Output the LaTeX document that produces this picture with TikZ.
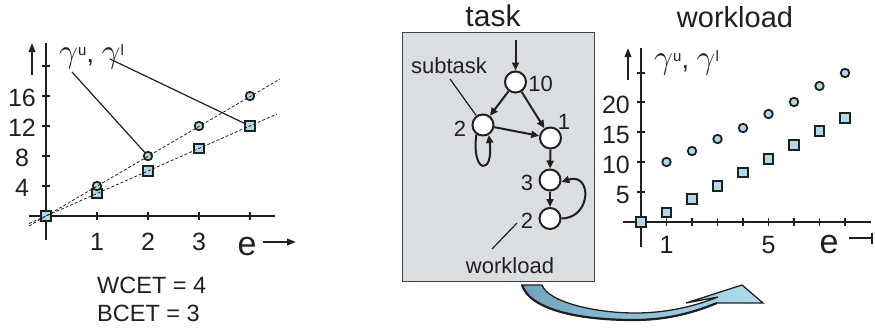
\documentclass[tikz,border=0pt]{standalone}
\usepackage{fix-cm}
\usepackage{fontspec}
\setmainfont{Liberation Sans}
\usetikzlibrary{arrows.meta}
\definecolor{mk}{RGB}{172,220,234}
\definecolor{boxfill}{RGB}{218,221,226}
\definecolor{arrA}{RGB}{112,164,190}
\definecolor{arrB}{RGB}{176,222,236}
\definecolor{ink}{RGB}{35,31,32}
\newcommand{\fsz}[1]{\fontsize{#1}{#1}\selectfont}
\newcommand{\gamlab}{\scalebox{1.25}{$\gamma$}\raisebox{7pt}{\fsz{15}u}, \scalebox{1.25}{$\gamma$}\raisebox{7pt}{\fsz{15}l}}
\begin{document}
\begin{tikzpicture}[x=1pt,y=-1pt,
  axis/.style={line width=2pt, draw=ink},
  tickmark/.style={line width=1.6pt, draw=ink},
  lab/.style={inner sep=0pt, anchor=base, text=ink, font=\fsz{25}},
  circmark/.style={circle, draw=ink, line width=1.8pt, fill=mk, minimum size=8.5pt, inner sep=0pt},
  sqmark/.style={rectangle, draw=ink, line width=1.8pt, fill=mk, minimum size=9.5pt, inner sep=0pt},
  gnode/.style={circle, draw=ink, line width=2pt, fill=white, minimum size=21pt, inner sep=0pt},
  gedge/.style={line width=2pt, draw=ink, -{Triangle[length=8pt,width=7pt]}},
  ptr/.style={line width=1.2pt, draw=ink},
  dline/.style={dash pattern=on 3pt off 2pt, line width=0.8pt, draw=ink},
  axarrow/.style={line width=2pt, draw=ink, -{Triangle[length=9pt,width=6.5pt]}},
]
\useasboundingbox (0,0) rectangle (875,327);

% ================= left chart =================
\coordinate (LyT) at (46,43); \coordinate (LyB) at (46,240);
\coordinate (LxL) at (29,216); \coordinate (LxR) at (275,216);
\draw[axis] (LyT) -- (LyB);
\draw[axis] (LxL) -- (LxR);
\foreach \y in {66,96,126,156,186} \draw[tickmark] (42,\y) -- (50,\y);
\foreach \x in {97,148,199,250} \draw[tickmark] (\x,212) -- (\x,220);
\node[lab] (ly16) at (22,106) {16};
\node[lab] (ly12) at (22,136) {12};
\node[lab] (ly8) at (22,166) {8};
\node[lab] (ly4) at (22,196) {4};
\node[lab] (lx1) at (97,250) {1};
\node[lab] (lx2) at (148,250) {2};
\node[lab] (lx3) at (199,250) {3};
\node[lab, font=\fsz{34}] (le) at (247,255) {e};
\coordinate (LeA) at (263,242); \coordinate (LeB) at (296,242);
\draw[axarrow] (LeA) -- (LeB);
\coordinate (LgA) at (32,75); \coordinate (LgB) at (32,43);
\draw[axarrow] (LgA) -- (LgB);
\node[lab, anchor=base west, font=\fsz{27}] (lgam) at (59,62) {\gamlab};

% markers
\node[sqmark] (s0) at (46,216) {};
\node[sqmark] (s1) at (97,193.5) {};
\node[sqmark] (s2) at (148,171) {};
\node[sqmark] (s3) at (199,148.5) {};
\node[sqmark] (s4) at (250,126) {};
\node[circmark] (c1) at (97,186) {};
\node[circmark] (c2) at (148,156) {};
\node[circmark] (c3) at (199,126) {};
\node[circmark] (c4) at (250,96) {};
% dashed lines
\coordinate (d1a) at (29,226); \coordinate (d1b) at (280,79);
\coordinate (d2a) at (29,223.5); \coordinate (d2b) at (277,114);
\draw[dline] (d1a) -- (d1b);
\draw[dline] (d2a) -- (d2b);
% pointers
\coordinate (g1) at (72,72); \coordinate (g2) at (110,59);
\draw[ptr] (g1) -- (c2);
\draw[ptr] (g2) -- (s4);

\node[lab, anchor=base west, font=\fsz{23.5}] (wcet) at (97,293) {WCET = 4};
\node[lab, anchor=base west, font=\fsz{23.5}] (bcet) at (97,321) {BCET = 3};

% ================= middle: task =================
\node[lab, font=\fsz{30}] (task) at (493,26) {task};
\node[draw=ink!85, line width=1pt, fill=boxfill, minimum width=192pt, minimum height=249pt, anchor=north west, inner sep=0pt] (box) at (402,32) {};

\node[gnode] (n1) at (515.5,82) {};
\node[gnode] (n2) at (483,125) {};
\node[gnode] (n3) at (550.5,138) {};
\node[gnode] (n4) at (550,180) {};
\node[gnode] (n5) at (550,218.5) {};
\node[lab, font=\fsz{22}] (l1) at (540.5,91) {10};
\node[lab, font=\fsz{22}] (l2) at (460,136) {2};
\node[lab, font=\fsz{22}] (l3) at (564,129) {1};
\node[lab, font=\fsz{22}] (l4) at (527,190) {3};
\node[lab, font=\fsz{22}] (l5) at (527,228) {2};

\coordinate (inc) at (515.5,40);
\draw[gedge] (inc) -- (n1);
\draw[gedge] (n1) -- (n2);
\draw[gedge] (n1) -- (n3);
\draw[gedge] (n2) -- (n3);
\draw[gedge] (n3) -- (n4);
\draw[gedge] (n4) -- (n5);
\draw[gedge] (n5.east) .. controls (592,218) and (592,172) .. (n4.-10);
\draw[gedge] (n2.235) .. controls (471,174) and (494,176) .. (n2.-60);

\node[lab, font=\fsz{22}] (sub) at (449,73) {subtask};
\coordinate (subp) at (450,79);
\draw[ptr] (subp) -- (n2);
\node[lab, font=\fsz{22}] (wl) at (510,273) {workload};
\coordinate (wlp) at (492,249); \coordinate (wle) at (517,223);
\draw[ptr] (wlp) -- (wle);

% big curved arrow
\path[draw=ink, line width=1.3pt, left color=arrA, right color=arrB, line join=miter]
  (522,285) -- (542,285) .. controls (548,302) and (595,313) .. (635,313)
  .. controls (668,313) and (695,306) .. (718,297) -- (686,303) -- (742,285)
  -- (763,303) -- (717,303) .. controls (690,314) and (665,320) .. (633,320)
  .. controls (580,320) and (530,310) .. (522,285) -- cycle;
\draw[ink, line width=2.2pt] (717,303) .. controls (690,314) and (665,320) .. (633,320)
  .. controls (580,320) and (530,310) .. (522,285);

% ================= right chart =================
\node[lab, font=\fsz{29}] (wtitle) at (735,27) {workload};
\coordinate (RyT) at (641,48); \coordinate (RyB) at (641,247);
\coordinate (RxL) at (623,222); \coordinate (RxR) at (871,222);
\draw[axis] (RyT) -- (RyB);
\draw[axis] (RxL) -- (RxR);
\foreach \y in {73,102,132,162,192} \draw[tickmark] (637,\y) -- (645,\y);
\foreach \x in {666.5,692,717.5,743,768.5,794,819.5,845} \draw[tickmark] (\x,218) -- (\x,226);
\node[lab, anchor=base east] (ry20) at (630,113) {20};
\node[lab, anchor=base east] (ry15) at (630,143) {15};
\node[lab, anchor=base east] (ry10) at (630,173) {10};
\node[lab, anchor=base east] (ry5) at (630,203) {5};
\node[lab] (rx1) at (666.5,253) {1};
\node[lab] (rx5) at (768.5,253) {5};
\node[lab, font=\fsz{34}] (re) at (829,253) {e};
\coordinate (ReA) at (849,238); \coordinate (ReB) at (873,238);
\draw[line width=2pt, draw=ink, -{Bar[width=11pt,line width=2pt]}] (ReA) -- (ReB);
\coordinate (RgA) at (628,80); \coordinate (RgB) at (628,48);
\draw[axarrow] (RgA) -- (RgB);
\node[lab, anchor=base west, font=\fsz{27}] (rgam) at (654,68) {\gamlab};

\node[circmark] (rc1) at (666.5,162) {};
\node[circmark] (rc2) at (692,151) {};
\node[circmark] (rc3) at (717.5,139) {};
\node[circmark] (rc4) at (743,128) {};
\node[circmark] (rc5) at (768.5,114) {};
\node[circmark] (rc6) at (794,102) {};
\node[circmark] (rc7) at (819.5,86) {};
\node[circmark] (rc8) at (845,73) {};
\node[sqmark] (rs0) at (641,222) {};
\node[sqmark] (rs1) at (666.5,212.5) {};
\node[sqmark] (rs2) at (692,199) {};
\node[sqmark] (rs3) at (717.5,186) {};
\node[sqmark] (rs4) at (743,172.5) {};
\node[sqmark] (rs5) at (768.5,159) {};
\node[sqmark] (rs6) at (794,145) {};
\node[sqmark] (rs7) at (819.5,131) {};
\node[sqmark] (rs8) at (845,118) {};
\end{tikzpicture}
\end{document}
